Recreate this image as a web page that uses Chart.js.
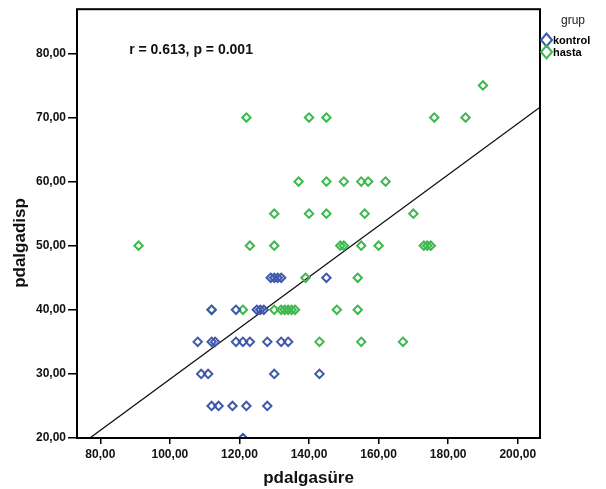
<!DOCTYPE html>
<html>
<head>
<meta charset="utf-8">
<script src="https://cdn.jsdelivr.net/npm/chart.js@4.4.1/dist/chart.umd.min.js"></script>
<style>
  body { margin: 0; background: #fff; }
  #wrap { width: 606px; height: 489px; }
</style>
</head>
<body>
<div id="wrap"><canvas id="myChart" width="606" height="489"></canvas></div>
<script>
const kontrolX = [129, 130, 131, 132, 145,
    112, 119, 125, 126, 127,
    108, 112, 113, 119, 121, 123, 128, 132, 134,
    109, 111, 130, 143,
    112, 114, 118, 122, 128,
    121]
const kontrolY = [45, 45, 45, 45, 45,
    40, 40, 40, 40, 40,
    35, 35, 35, 35, 35, 35, 35, 35, 35,
    30, 30, 30, 30,
    25, 25, 25, 25, 25,
    20]

const hastaX = [190,
    122, 140, 145, 176, 185,
    137, 145, 150, 155, 157, 162,
    130, 140, 145, 156, 170,
    91, 123, 130, 149, 150, 155, 160, 173, 174, 175,
    139, 154,
    112, 121, 130, 132, 133, 134, 135, 136, 148, 154,
    143, 155, 167]
const hastaY = [75,
    70, 70, 70, 70, 70,
    60, 60, 60, 60, 60, 60,
    55, 55, 55, 55, 55,
    50, 50, 50, 50, 50, 50, 50, 50, 50, 50,
    45, 45,
    40, 40, 40, 40, 40, 40, 40, 40, 40, 40,
    35, 35, 35]

// fit line end points
const fitX = [77, 206.4]
const fitY = [20, 71.6]

const xTicks = [80, 100, 120, 140, 160, 180, 200]
const yTicks = [20, 30, 40, 50, 60, 70, 80]

const blue = 'rgb(64, 88, 172)'
const green = 'rgb(62, 184, 78)'

const toPts = (xs, ys) => xs.map((x, i) => ({ x: x, y: ys[i] }))
const fmt = v => v.toFixed(2).replace('.', ',')

const ctx = document.getElementById('myChart').getContext('2d')

const extras = {
    id: 'extras',
    afterDraw: (chart) => {
        const c = chart.ctx
        const a = chart.chartArea
        const sx = chart.scales.x
        const sy = chart.scales.y
        c.save()
        // box
        c.strokeStyle = '#000'
        c.lineWidth = 2
        c.strokeRect(a.left, a.top, a.right - a.left, a.bottom - a.top)

        // correlation text
        c.fillStyle = '#111'
        c.font = 'bold 14px "Liberation Sans", Arial, sans-serif'
        c.textBaseline = 'middle'
        c.textAlign = 'left'
        c.fillText('r = 0.613, p = 0.001', sx.getPixelForValue(88.3), sy.getPixelForValue(80.5))

        // y title
        c.save()
        c.translate(20, 243)
        c.rotate(-Math.PI / 2)
        c.textAlign = 'center'
        c.font = 'bold 17px "Liberation Sans", Arial, sans-serif'
        c.fillText('pdalgadisp', 0, 0)
        c.restore()

        // legend
        c.font = '12px "Liberation Sans", Arial, sans-serif'
        c.fillStyle = '#222'
        c.textAlign = 'left'
        c.fillText('grup', 561, 21)
        const items = [['kontrol', blue, 40], ['hasta', green, 52]]
        items.forEach(it => {
            c.strokeStyle = it[1]
            c.lineWidth = 2
            c.beginPath()
            c.moveTo(546.5, it[2] - 6.5)
            c.lineTo(552, it[2])
            c.lineTo(546.5, it[2] + 6.5)
            c.lineTo(541, it[2])
            c.closePath()
            c.stroke()
            c.fillStyle = '#000'
            c.font = 'bold 11px "Liberation Sans", Arial, sans-serif'
            c.fillText(it[0], 553, it[2] + 1)
        })
        c.restore()
    }
}

const tickFont = { family: '"Liberation Sans", Arial, sans-serif', size: 12, weight: 'bold' }

const myChart = new Chart(ctx, {
    type: 'scatter',
    data: {
        datasets: [
            {
                label: 'kontrol',
                data: toPts(kontrolX, kontrolY),
                pointStyle: 'rectRot',
                pointRadius: 4.2,
                borderWidth: 2,
                borderColor: blue,
                backgroundColor: 'rgba(0,0,0,0)'
            },
            {
                label: 'hasta',
                data: toPts(hastaX, hastaY),
                pointStyle: 'rectRot',
                pointRadius: 4.2,
                borderWidth: 2,
                borderColor: green,
                backgroundColor: 'rgba(0,0,0,0)'
            },
            {
                type: 'line',
                label: 'fit',
                data: toPts(fitX, fitY),
                borderColor: '#111',
                borderWidth: 1.3,
                pointRadius: 0,
                fill: false
            }
        ]
    },
    options: {
        responsive: false,
        animation: false,
        layout: { padding: { top: 7, right: 66, left: 0, bottom: 0 } },
        plugins: {
            legend: { display: false },
            tooltip: { enabled: false }
        },
        scales: {
            x: {
                type: 'linear',
                min: 73.3,
                max: 206.4,
                afterBuildTicks: (s) => { s.ticks = xTicks.map(v => ({ value: v })) },
                afterFit: (s) => { s.height = 51 },
                border: { display: false },
                grid: { drawOnChartArea: false, drawTicks: true, tickLength: 6, color: '#000', lineWidth: 1.5 },
                ticks: { color: '#111', font: tickFont, padding: 3, maxRotation: 0, callback: v => fmt(v) },
                title: {
                    display: true,
                    text: 'pdalgasüre',
                    color: '#111',
                    font: { family: '"Liberation Sans", Arial, sans-serif', size: 17, weight: 'bold' },
                    padding: { top: 0, bottom: 0 }
                }
            },
            y: {
                type: 'linear',
                min: 20,
                max: 86.9,
                afterBuildTicks: (s) => { s.ticks = yTicks.map(v => ({ value: v })) },
                afterFit: (s) => { s.width = 77 },
                border: { display: false },
                grid: { drawOnChartArea: false, drawTicks: true, tickLength: 9, color: '#000', lineWidth: 1.5 },
                ticks: { color: '#111', font: tickFont, padding: 2, callback: v => fmt(v) }
            }
        }
    },
    plugins: [extras]
})
</script>
</body>
</html>
